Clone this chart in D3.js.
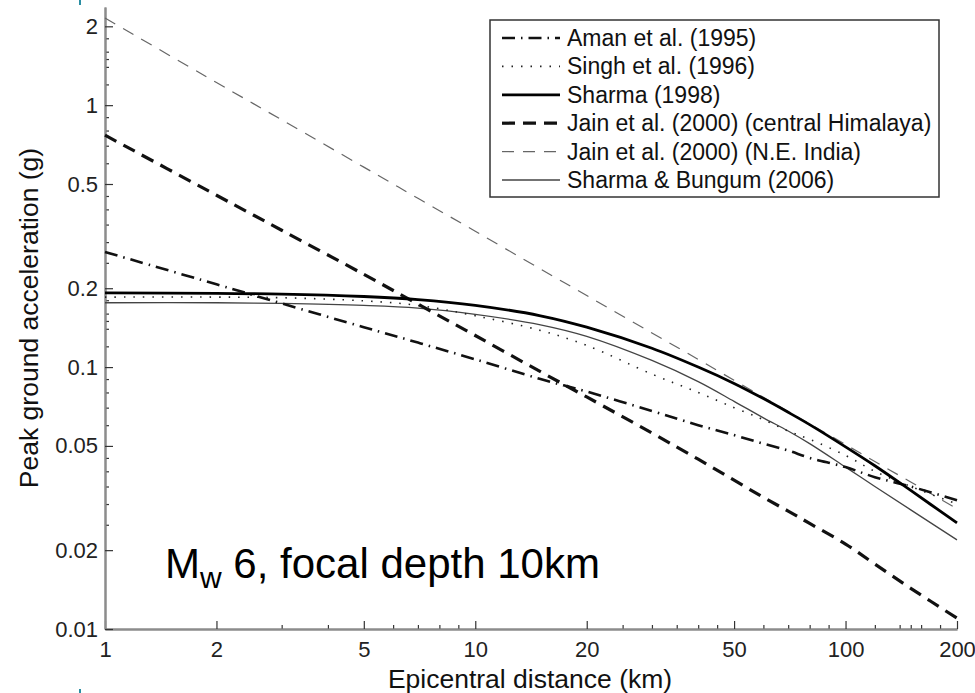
<!DOCTYPE html>
<html><head><meta charset="utf-8">
<script src="https://cdn.jsdelivr.net/npm/d3@7"></script>
<style>body{margin:0;background:#fff}svg{display:block}</style>
</head><body>
<svg id="chart" width="975" height="693"></svg>
<script>
// ---- data ----
const distances = [1, 2, 3, 5, 7, 10, 15, 20, 30, 40, 50, 60, 70, 80, 100, 120, 150, 200];
const aman1995     = [0.275, 0.207, 0.175, 0.142, 0.124, 0.107, 0.090, 0.0806, 0.068, 0.060, 0.055, 0.051, 0.048, 0.045, 0.0415, 0.038, 0.035, 0.031];
const singh1996    = [0.185, 0.185, 0.184, 0.179, 0.172, 0.157, 0.138, 0.121, 0.094, 0.080, 0.070, 0.063, 0.057, 0.053, 0.046, 0.040, 0.035, 0.030];
const sharma1998   = [0.192, 0.191, 0.190, 0.186, 0.181, 0.172, 0.157, 0.142, 0.118, 0.100, 0.0866, 0.0758, 0.0672, 0.0603, 0.0496, 0.0420, 0.0338, 0.0254];
const jainCentral  = [0.768, 0.453, 0.333, 0.226, 0.174, 0.132, 0.096, 0.0769, 0.056, 0.0445, 0.037, 0.0318, 0.0282, 0.0253, 0.0211, 0.0177, 0.0143, 0.0110];
const jainNE       = [2.15, 1.22, 0.879, 0.58, 0.441, 0.33, 0.237, 0.1875, 0.135, 0.107, 0.089, 0.0767, 0.0676, 0.0607, 0.0506, 0.0436, 0.0364, 0.0288];
const sharmaBungum = [0.176, 0.176, 0.175, 0.172, 0.168, 0.159, 0.145, 0.131, 0.106, 0.088, 0.074, 0.064, 0.057, 0.051, 0.0415, 0.035, 0.0285, 0.0219];

const seriesNames = ["Aman et al. (1995)", "Singh et al. (1996)", "Sharma (1998)",
  "Jain et al. (2000) (central Himalaya)", "Jain et al. (2000) (N.E. India)", "Sharma & Bungum (2006)"];

const xMajorTicks = [1, 2, 5, 10, 20, 50, 100, 200];
const xMajorLabels = ["1", "2", "5", "10", "20", "50", "100", "200"];
const yMajorTicks = [0.01, 0.02, 0.05, 0.1, 0.2, 0.5, 1, 2];
const yMajorLabels = ["0.01", "0.02", "0.05", "0.1", "0.2", "0.5", "1", "2"];
const xMinorTicks = [3, 4, 6, 7, 8, 9, 25, 30, 35, 40, 45, 60, 70, 80, 90, 120, 140, 150, 160, 180];
const yMinorTicks = [0.025, 0.03, 0.035, 0.04, 0.045, 0.06, 0.07, 0.08, 0.09,
  0.12, 0.14, 0.15, 0.16, 0.18, 0.25, 0.3, 0.35, 0.4, 0.45, 0.6, 0.7, 0.8, 0.9,
  1.2, 1.4, 1.5, 1.6, 1.8];

// ---- styles ----
const styles = [
  {w: 2.6, c: "#111", dash: "13,6,1.5,6"},
  {w: 1.6, c: "#222", dash: "1.5,8"},
  {w: 2.8, c: "#000", dash: null},
  {w: 3.2, c: "#111", dash: "13,8"},
  {w: 1.2, c: "#666", dash: "12,9"},
  {w: 1.3, c: "#444", dash: null}
];
const allValues = [aman1995, singh1996, sharma1998, jainCentral, jainNE, sharmaBungum];

const svg = d3.select("#chart");
const font = "Liberation Sans, Arial, Helvetica, sans-serif";

const x = d3.scaleLog().domain([1, 200]).range([105, 957]);
const y = d3.scaleLog().domain([0.01, 2.37]).range([629, 7]);

// small teal slide artifacts at the left edge
svg.append("rect").attr("x", 79).attr("y", 0).attr("width", 2).attr("height", 5).attr("fill", "#2b8ea3");
svg.append("rect").attr("x", 79).attr("y", 689).attr("width", 2).attr("height", 4).attr("fill", "#2b8ea3");

// axes
function styleAxis(g) {
  g.select(".domain").attr("stroke", "#8c8c8c").attr("stroke-width", 2);
  g.selectAll(".tick line").attr("stroke", "#333").attr("stroke-width", 1.2);
  g.selectAll(".tick text").attr("fill", "#222").style("font-family", font).style("font-size", "22px");
}
const xAxisMinor = d3.axisBottom(x).tickValues(xMinorTicks).tickSizeInner(-4).tickSizeOuter(0).tickFormat("");
const xAxisMajor = d3.axisBottom(x).tickValues(xMajorTicks).tickSizeInner(-8).tickSizeOuter(0)
  .tickPadding(8).tickFormat((d, i) => xMajorLabels[i]);
const yAxisMinor = d3.axisLeft(y).tickValues(yMinorTicks).tickSizeInner(-4).tickSizeOuter(0).tickFormat("");
const yAxisMajor = d3.axisLeft(y).tickValues(yMajorTicks).tickSizeInner(-8).tickSizeOuter(0)
  .tickPadding(7).tickFormat((d, i) => yMajorLabels[i]);

svg.append("g").attr("transform", "translate(0,629)").call(xAxisMinor).call(styleAxis);
svg.append("g").attr("transform", "translate(0,629)").call(xAxisMajor).call(styleAxis)
  .selectAll(".tick text").attr("dy", "0.9em");
svg.append("g").attr("transform", "translate(105,0)").call(yAxisMinor).call(styleAxis);
svg.append("g").attr("transform", "translate(105,0)").call(yAxisMajor).call(styleAxis);

// curves
const line = d3.line().x(d => x(d[0])).y(d => y(d[1])).curve(d3.curveCatmullRom.alpha(0.5));
const drawOrder = [4, 5, 1, 0, 3, 2];
drawOrder.forEach(i => {
  const s = styles[i];
  svg.append("path")
    .datum(distances.map((d, k) => [d, allValues[i][k]]))
    .attr("fill", "none")
    .attr("stroke", s.c)
    .attr("stroke-width", s.w)
    .attr("stroke-dasharray", s.dash)
    .attr("d", line);
});

// axis titles
svg.append("text").attr("x", 530).attr("y", 688).attr("text-anchor", "middle")
  .style("font-family", font).style("font-size", "26.5px").attr("fill", "#111")
  .text("Epicentral distance (km)");
svg.append("text").attr("transform", "translate(38,318) rotate(-90)").attr("text-anchor", "middle")
  .style("font-family", font).style("font-size", "26.5px").attr("fill", "#111")
  .text("Peak ground acceleration (g)");

// annotation
const ann = svg.append("text").attr("x", 165).attr("y", 578)
  .style("font-family", font).style("font-size", "42px").attr("fill", "#000");
ann.append("tspan").text("M");
ann.append("tspan").attr("dy", 10).style("font-size", "30px").text("w");
ann.append("tspan").attr("dy", -10).text(" 6, focal depth 10km");

// legend
const lg = svg.append("g");
lg.append("rect").attr("x", 490).attr("y", 20).attr("width", 449).attr("height", 177)
  .attr("fill", "#fff").attr("stroke", "#333").attr("stroke-width", 1.5);
seriesNames.forEach((name, i) => {
  const cy = 38 + i * 28.4;
  const s = styles[i];
  lg.append("line").attr("x1", 502).attr("x2", 560).attr("y1", cy).attr("y2", cy)
    .attr("stroke", s.c).attr("stroke-width", s.w).attr("stroke-dasharray", s.dash);
  lg.append("text").attr("x", 567).attr("y", cy + 8)
    .style("font-family", font).style("font-size", "23px").attr("fill", "#111").text(name);
});
</script>
</body></html>
